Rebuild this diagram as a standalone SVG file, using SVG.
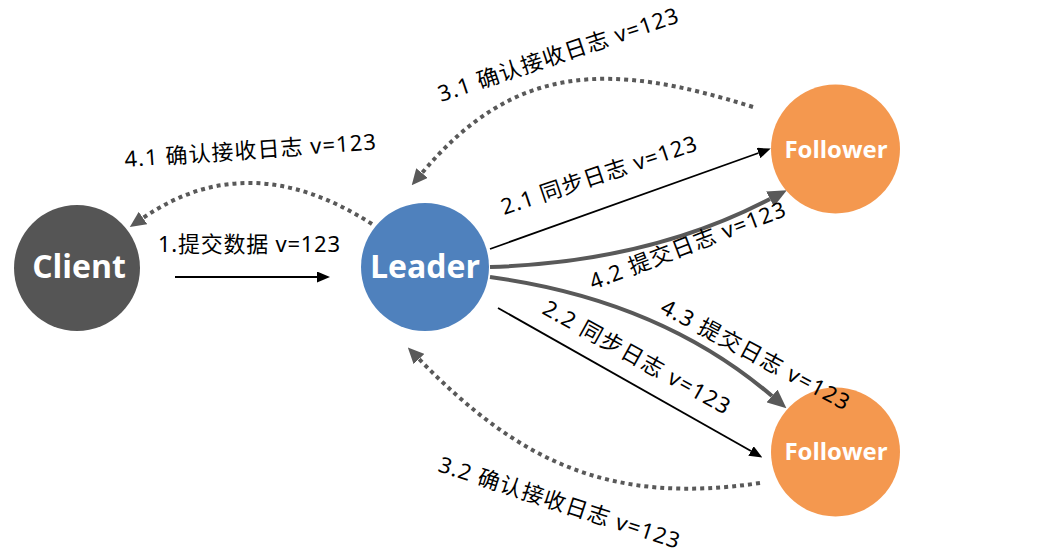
<svg xmlns="http://www.w3.org/2000/svg" width="1042" height="554" viewBox="0 0 1042 554">
<style>
.node-text{font-family:"Open Sans","Liberation Sans",sans-serif;font-weight:bold;fill:#ffffff;text-anchor:middle}
.lbl{font-family:"Noto Sans","Noto Sans CJK SC",sans-serif;font-size:22px;fill:#000000}
.thin{fill:none;stroke:#000000;stroke-width:1.8}
.thick{fill:none;stroke:#595959;stroke-width:4}
.dot{fill:none;stroke:#595959;stroke-width:4;stroke-dasharray:4 4}
</style>
<defs>
<marker id="ab" markerUnits="userSpaceOnUse" markerWidth="13" markerHeight="11" viewBox="0 0 13 11" refX="0" refY="5.5" orient="auto">
<path d="M0,0 L13,5.5 L0,11 z" fill="#000000"/>
</marker>
<marker id="ag" markerUnits="userSpaceOnUse" markerWidth="19" markerHeight="17" viewBox="0 0 19 17" refX="0" refY="8.5" orient="auto">
<path d="M0,0 L19,8.5 L0,17 z" fill="#595959"/>
</marker>
<marker id="ad" markerUnits="userSpaceOnUse" markerWidth="16" markerHeight="15" viewBox="0 0 16 15" refX="0" refY="7.5" orient="auto">
<path d="M0,0 L16,7.5 L0,15 z" fill="#595959"/>
</marker>
</defs>
<g id="connectors">
<path class="thin" d="M175,277 L317,277" marker-end="url(#ab)"/>
<path class="thin" d="M490,249 L758.5,153" marker-end="url(#ab)"/>
<path class="thin" d="M498,308 L751,451" marker-end="url(#ab)"/>
<path class="thick" d="M490,267 Q650,262 770,199" marker-end="url(#ag)"/>
<path class="thick" d="M490,277 Q660,300 772,396" marker-end="url(#ag)"/>
<path class="dot" d="M372,224 Q249,145 143,218" marker-end="url(#ad)"/>
<path class="dot" d="M753,107 C610,62 515,62 422,173" marker-end="url(#ad)"/>
<path class="dot" d="M760,483 C611,505 520,463 419,359" marker-end="url(#ad)"/>
</g>
<g id="client">
<circle cx="77" cy="268" r="63" fill="#555555"/>
<text class="node-text" x="79" y="278" font-size="32">Client</text>
</g>
<g id="leader">
<circle cx="425" cy="267" r="64" fill="#4f81bd"/>
<text class="node-text" x="425" y="278" font-size="32">Leader</text>
</g>
<g id="follower1">
<circle cx="835.5" cy="149" r="64.5" fill="#f4984f"/>
<text class="node-text" x="836" y="158" font-size="24">Follower</text>
</g>
<g id="follower2">
<circle cx="835.5" cy="452" r="64.5" fill="#f4984f"/>
<text class="node-text" x="836" y="460" font-size="24">Follower</text>
</g>
<g id="labels">
<text class="lbl" x="158" y="252" textLength="182" lengthAdjust="spacing">1.提交数据 v=123</text>
<text class="lbl" transform="translate(125,167) rotate(-4)" textLength="252" lengthAdjust="spacing">4.1 确认接收日志 v=123</text>
<text class="lbl" transform="translate(441,102) rotate(-18.5)" textLength="252" lengthAdjust="spacing">3.1 确认接收日志 v=123</text>
<text class="lbl" transform="translate(504,215) rotate(-18.5)" textLength="205" lengthAdjust="spacing">2.1 同步日志 v=123</text>
<text class="lbl" transform="translate(593,290) rotate(-21)" textLength="208" lengthAdjust="spacing">4.2 提交日志 v=123</text>
<text class="lbl" transform="translate(541,313) rotate(29)" textLength="210" lengthAdjust="spacing">2.2 同步日志 v=123</text>
<text class="lbl" transform="translate(659,312) rotate(28)" textLength="210" lengthAdjust="spacing">4.3 提交日志 v=123</text>
<text class="lbl" transform="translate(437,471) rotate(18)" textLength="252" lengthAdjust="spacing">3.2 确认接收日志 v=123</text>
</g>
</svg>
